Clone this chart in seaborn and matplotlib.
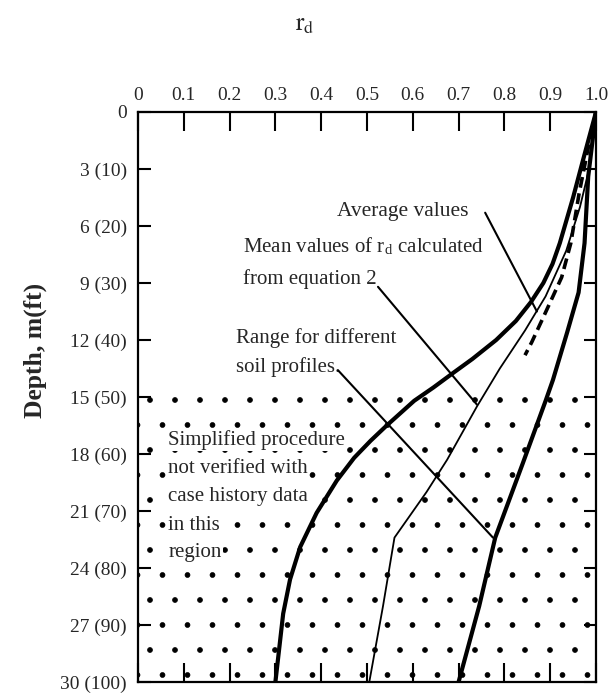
import matplotlib
matplotlib.use("Agg")
import matplotlib.pyplot as plt
import numpy as np
import pandas as pd
import seaborn as sns

# ---------------- data ----------------
lower_depth = [0, 2.5, 4.5, 6.9, 8.0, 9.0, 10.0, 11.0, 12.0, 13.0, 13.7, 14.5, 15.2, 16.5,
               17.3, 18.2, 19.4, 21.1, 22.9, 24.6, 26.4, 30]
lower_rd    = [1.0, 0.972, 0.95, 0.921, 0.905, 0.885, 0.858, 0.825, 0.782, 0.73, 0.69, 0.645,
               0.603, 0.543, 0.508, 0.472, 0.434, 0.39, 0.354, 0.332, 0.317, 0.30]

upper_depth = [0, 3.4, 6.9, 9.5, 11.6, 14.1, 15.2, 18.5, 22.4, 26.0, 30]
upper_rd    = [1.0, 0.983, 0.975, 0.962, 0.937, 0.906, 0.89, 0.84, 0.78, 0.745, 0.70]

mean_depth = [0, 3, 5, 7.3, 9.7, 11.5, 13.5, 15.5, 18.3, 20.0, 22.4, 26.0, 30]
mean_rd    = [1.0, 0.985, 0.965, 0.935, 0.89, 0.845, 0.79, 0.74, 0.675, 0.63, 0.56, 0.535, 0.505]

avg_depth = [0, 2, 4.3, 6.9, 8.7, 9.7, 10.8, 12.1, 12.8]
avg_rd    = [1.0, 0.982, 0.963, 0.945, 0.925, 0.906, 0.885, 0.86, 0.845]

x_ticks = [0, 0.1, 0.2, 0.3, 0.4, 0.5, 0.6, 0.7, 0.8, 0.9, 1.0]
x_tick_labels = ["0", "0.1", "0.2", "0.3", "0.4", "0.5", "0.6", "0.7", "0.8", "0.9", "1.0"]
y_ticks = [0, 3, 6, 9, 12, 15, 18, 21, 24, 27, 30]
y_tick_labels = ["0", "3 (10)", "6 (20)", "9 (30)", "12 (40)", "15 (50)", "18 (60)",
                 "21 (70)", "24 (80)", "27 (90)", "30 (100)"]

unverified_top, unverified_bottom = 15, 30

# annotation texts
avg_label = "Average values"
mean_label = ["Mean values of r$_\\mathregular{d}$ calculated", "from equation 2"]
range_label = ["Range for different", "soil profiles."]
region_label = ["Simplified procedure", "not verified with", "case history data", "in this", "region"]

# leader lines: (rd, depth) start -> end
avg_leader = [(0.758, 5.3), (0.871, 10.5)]
mean_leader = [(0.524, 9.2), (0.74, 15.4)]
range_leader = [(0.437, 13.6), (0.775, 22.4)]

# ---------------- style ----------------
DPI = 150
k = 100 / DPI  # point-size scale so the picture matches a 100-dpi layout

sns.set_theme(style="white")
plt.rcParams["font.family"] = ["Liberation Serif", "DejaVu Serif"]
plt.rcParams["mathtext.fontset"] = "stix"
plt.rcParams["hatch.linewidth"] = 0.3

fig = plt.figure(figsize=(610 / DPI, 695 / DPI), dpi=DPI)
ax = fig.add_axes([138 / 610, 1 - 682 / 695, (596 - 138) / 610, (682 - 112) / 695])

# dotted region (procedure not verified)
ax.fill_between([0, 1], unverified_top, unverified_bottom, facecolor="none",
                edgecolor="black", hatch=".", linewidth=0, zorder=0)

def curve(xv, yv, **kw):
    df = pd.DataFrame({"rd": xv, "depth": yv})
    sns.lineplot(data=df, x="rd", y="depth", sort=False, estimator=None,
                 color="black", ax=ax, **kw)

curve(lower_rd, lower_depth, linewidth=3.0 * k, zorder=3)
curve(upper_rd, upper_depth, linewidth=3.0 * k, zorder=3)
curve(mean_rd, mean_depth, linewidth=1.3 * k, zorder=3)
curve(avg_rd, avg_depth, linewidth=2.6 * k, linestyle=(0, (3.0, 1.6)), zorder=3)

for (p0, p1) in [avg_leader, mean_leader, range_leader]:
    ax.annotate("", xy=p1, xytext=p0,
                arrowprops=dict(arrowstyle="-", color="black", lw=1.5 * k,
                                shrinkA=0, shrinkB=0), zorder=4)

fs = 15 * k
ax.text(0.434, 5.26, avg_label, fontsize=15.5 * k, va="center", ha="left")
for s, d in zip(mean_label, [7.1, 8.8]):
    ax.text(0.229, d, s, fontsize=fs, va="center", ha="left")
for s, d in zip(range_label, [11.9, 13.4]):
    ax.text(0.214, d, s, fontsize=fs, va="center", ha="left")
for s, d in zip(region_label, [17.26, 18.74, 20.26, 21.74, 23.2]):
    ax.text(0.066, d, s, fontsize=fs, va="center", ha="left", zorder=5,
            bbox=dict(facecolor="white", edgecolor="none", pad=0.5))

ax.set_xlim(0, 1.0)
ax.set_ylim(30, 0)
ax.set_xticks(x_ticks)
ax.set_xticklabels(x_tick_labels)
ax.set_yticks(y_ticks)
ax.set_yticklabels(y_tick_labels)
ax.set_xlabel("")
ax.set_ylabel("")
ax.xaxis.tick_top()
ax.tick_params(axis="x", which="both", direction="in", top=True, bottom=True,
               labeltop=True, labelbottom=False, length=14 * k, width=1.5 * k,
               labelsize=14 * k, pad=6 * k, color="black")
ax.tick_params(axis="y", which="both", direction="in", left=True, right=True,
               labelleft=True, labelright=False, length=9 * k, width=1.5 * k,
               labelsize=14 * k, pad=8 * k, color="black")
for side, sp in ax.spines.items():
    sp.set_visible(True)
    sp.set_color("black")
    sp.set_linewidth(1.6 * k)

fig.text(305 / 610, 1 - 25 / 695, r"$\mathrm{r}_\mathrm{d}$", fontsize=18 * k,
         ha="center", va="center")
fig.text(35 / 610, 1 - 350 / 695, "Depth, m(ft)", fontsize=18.5 * k, fontweight="bold",
         rotation=90, ha="center", va="center")

fig.savefig("out.png", dpi=DPI)
